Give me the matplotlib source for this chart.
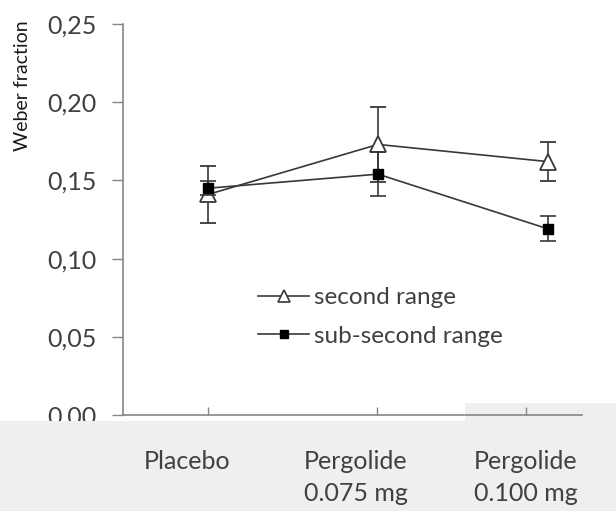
import matplotlib
matplotlib.use("Agg")
import matplotlib.pyplot as plt
from matplotlib.patches import Rectangle
from matplotlib.lines import Line2D

# ---- data ----
categories = ["Placebo", "Pergolide\n0.075 mg", "Pergolide\n0.100 mg"]
second_range = [0.141, 0.173, 0.162]
second_range_err = [0.018, 0.024, 0.0125]
subsecond_range = [0.145, 0.154, 0.119]
subsecond_range_err = [0.0045, 0.014, 0.008]
yticks = [0.00, 0.05, 0.10, 0.15, 0.20, 0.25]
ytick_labels = ["0,00", "0,05", "0,10", "0,15", "0,20", "0,25"]

W, H = 616, 511
fig = plt.figure(figsize=(W / 100, H / 100), dpi=100)
plt.rcParams['font.family'] = ['Lato', 'DejaVu Sans']
txt = '#404040'
axc = '#868686'
linec = '#383838'
band = '#efefef'

# gray band behind axes (right part)
fig.patches.append(Rectangle((465 / W, 0), 1 - 465 / W, (H - 403) / H,
                             transform=fig.transFigure, facecolor=band,
                             edgecolor='none', zorder=1))

ax = fig.add_axes([123 / W, (H - 415) / H, (582 - 123) / W, (415 - 24) / H])
ax.set_zorder(2)
ax.set_facecolor('none')
x = list(range(len(categories)))

ax.errorbar(x, second_range, yerr=second_range_err, color=linec, lw=1.2,
            marker='^', ms=11, mfc='white', mec=linec, mew=1.3,
            ecolor=linec, elinewidth=1.2, capsize=5.5, capthick=1.2,
            label='second range', zorder=3)
ax.errorbar(x, subsecond_range, yerr=subsecond_range_err, color=linec, lw=1.2,
            marker='s', ms=7.5, mfc='black', mec='black',
            ecolor=linec, elinewidth=1.2, capsize=5.5, capthick=1.2,
            label='sub-second range', zorder=4)

ax.set_xlim(-0.5, 2.2)
ax.set_ylim(0, 0.25)
ax.set_yticks(yticks)
ax.set_yticklabels(ytick_labels)
ax.set_xticks([0, 0.995, 1.87])
ax.set_xticklabels([])
ax.tick_params(axis='y', direction='out', length=8, width=1, color=axc,
               labelsize=18, labelcolor=txt, pad=11)
ax.tick_params(axis='x', direction='in', length=6, width=1, color=axc)
for s in ['top', 'right']:
    ax.spines[s].set_visible(False)
for s in ['left', 'bottom']:
    ax.spines[s].set_color(axc)
    ax.spines[s].set_linewidth(1.2)

ax.set_ylabel('Weber fraction', fontsize=14, color='#1a1a1a')
ax.yaxis.set_label_coords(-0.2, 0.841)

# legend
h1 = Line2D([], [], color=linec, lw=1.2, marker='^', ms=8, mfc='white',
            mec=linec, mew=1.2)
h2 = Line2D([], [], color=linec, lw=1.2, marker='s', ms=5.5, mfc='black',
            mec='black')
leg = ax.legend([h1, h2], ['second range', 'sub-second range'],
                loc='upper left', bbox_to_anchor=(258 / W, (H - 287) / H),
                bbox_transform=fig.transFigure, frameon=False, fontsize=17.5,
                handlelength=2.1, handletextpad=0.2, labelspacing=0.72,
                borderpad=0, borderaxespad=0)
for t in leg.get_texts():
    t.set_color(txt)

# gray band overlapping the lower-left part (cuts the 0,00 label)
band_left = Rectangle((0, 0), 465 / W, (H - 421) / H,
                      transform=fig.transFigure, facecolor=band,
                      edgecolor='none', zorder=3)
fig.add_artist(band_left)

# category labels (shifted as in the reference), drawn on top of the band
label_px = [187, 356, 526]
for lx, lab in zip(label_px, categories):
    for i, ln in enumerate(lab.split('\n')):
        ypx = 461 + 32 * i
        fig.text(lx / W, (H - ypx) / H, ln, ha='center', va='center',
                 fontsize=18, color=txt, zorder=10)

fig.savefig('out.png', dpi=100)
